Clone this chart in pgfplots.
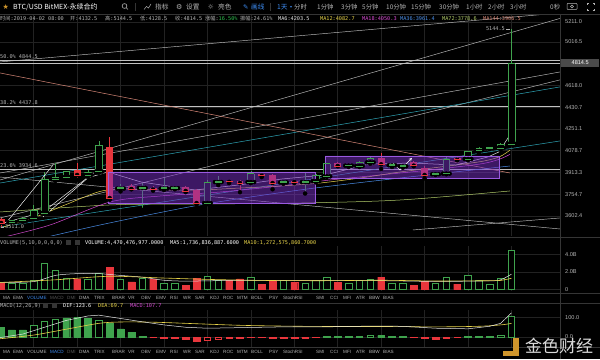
\documentclass[border=0pt]{standalone}
\usepackage{pgfplots}
\pgfplotsset{compat=1.18}
\usepackage{pgfplotstable}
\usepackage{fontspec}
\setmainfont{Liberation Sans}
\newfontfamily\cjk{Noto Sans CJK SC}
\newfontfamily\mono{DejaVu Sans Mono}
\newfontfamily\sym{DejaVu Sans}
\definecolor{gridc}{HTML}{222222}
\definecolor{sepc}{HTML}{353535}
\definecolor{cgreen}{HTML}{3FA34D}
\definecolor{cred}{HTML}{E8363C}
\definecolor{txt}{HTML}{B4B4B4}
\definecolor{dim}{HTML}{555555}
\definecolor{blu}{HTML}{3D8BF0}
\definecolor{ma6}{HTML}{E6E6E6}
\definecolor{ma12}{HTML}{E8D44A}
\definecolor{ma18}{HTML}{D64AD2}
\definecolor{ma36}{HTML}{4A8EE8}
\definecolor{ma72}{HTML}{B2CC6A}
\definecolor{ma144}{HTML}{D88878}
\definecolor{tealc}{HTML}{2FA6B8}
\definecolor{lgray}{HTML}{C0C0C0}
\definecolor{boxc}{HTML}{7A30C8}
\definecolor{boxl}{HTML}{9A5AE0}
\definecolor{gold}{HTML}{D0962C}
\definecolor{upg}{HTML}{2FBF4F}
\definecolor{tagc}{HTML}{4A4A4A}

\pgfplotsset{
 seg/.style 2 args={only marks, mark=none, forget plot,
   error bars/.cd, y dir=plus, y explicit, error mark=none,
   error bar style={draw=#1, line width=#2}},
 panel/.style={scale only axis, anchor=south west, width=560pt,
   xmin=-0.1, xmax=51.47, axis line style={draw=none}, major tick length=0pt,
   xtick={3,7,...,47}, xticklabels={}, yticklabel pos=right,
   yticklabel style={font=\fontsize{5.6}{6}\selectfont, text=txt, anchor=west, xshift=5pt, inner sep=0pt},
   grid=major, grid style={draw=gridc, line width=0.5pt}},
}

% green (up) candles
\pgfplotstableread{
i O H L C
1 3560 3575 3548 3570
2 3570 3595 3562 3588
3 3585 3679 3580 3644
4 3623 3917 3615 3865
5 3865 3985 3850 3880
6 3880 3928 3860 3925
8 3895 3935 3880 3915
9 3920 4155 3910 4124
11 3795 3830 3775 3806
13 3800 3836 3644 3806
15 3795 3870 3785 3806
16 3798 3815 3790 3806
19 3692 3860 3685 3843
20 3843 3890 3820 3850
23 3843 3925 3835 3905
26 3840 3860 3830 3848
28 3843 3910 3760 3850
29 3850 3900 3840 3893
30 3885 3985 3880 3980
32 3965 3975 3955 3970
33 3962 4000 3955 3992
34 3990 4030 3980 4023
36 3968 3985 3955 3972
37 3960 3975 3950 3965
40 3900 3912 3895 3908
41 3905 4040 3900 4015
43 4015 4080 4005 4077
44 4085 4110 4060 4097
45 4098 4105 4092 4102
46 4100 4135 4085 4132
47 4132.5 5144.5 4128.5 4814.5
}\gc
% red (down) candles
\pgfplotstableread{
i O H L C
0 3582 3590 3511 3555
7 3930 3985 3860 3895
10 4108 4187 3715 3728
12 3814 3825 3790 3792
14 3800 3815 3780 3788
17 3806 3815 3770 3778
18 3785 3790 3680 3692
21 3852 3860 3835 3844
22 3851 3860 3770 3836
24 3905 3915 3880 3890
25 3895 3900 3790 3836
27 3850 3858 3835 3843
31 3982 3995 3960 3962
35 4023 4060 3940 3975
38 3990 4000 3960 3965
39 3950 3960 3870 3895
42 4022 4030 4005 4008
}\rc
% volume (billions)
\pgfplotstableread{
i v
1 0.76
2 0.76
3 1.1
4 2.95
5 2.2
6 1.3
8 1.2
9 1.85
11 1.2
13 1.3
15 0.7
16 0.7
19 1.5
20 1.05
23 1.4
26 1.05
28 0.7
29 1.05
30 1.4
32 0.7
33 1.1
34 1.2
36 0.7
37 0.65
40 0.7
41 1.4
43 1.6
44 1.05
45 0.55
46 1.3
47 4.47
}\vg
\pgfplotstableread{
i v
0 0.76
7 1.2
10 2.5
12 0.87
14 1.2
17 0.5
18 1.24
21 1.05
22 1.2
24 0.6
25 0.95
27 0.85
31 0.85
35 1.4
38 0.5
39 0.95
42 0.6
}\vr
% MACD histogram
\pgfplotstableread{
i v
0 48
1 36
2 36
6 98
7 100
8 95
10 70
11 42
12 24
13 5
30 2
35 7
36 5
37 2
43 2
}\mgf
\pgfplotstableread{
i v
3 60
4 80
5 92
9 85
31 5
32 5
33 6
34 9
44 5
45 6
46 9
47 107.7
}\mgh
\pgfplotstableread{
i v
14 -2
15 -8
16 -8
17 -11
18 -22
23 -2
24 -3
25 -4
26 -6
27 -6
28 -6
38 -2
39 -7
40 -12
}\mrf
\pgfplotstableread{
i v
19 -15
20 -10
21 -8
22 -6
29 -4
41 -5
42 -4
}\mrh

\begin{document}
\begin{tikzpicture}[x=1pt,y=1pt]
\useasboundingbox (0,0) rectangle (600,359);
\fill[black] (0,0) rectangle (600,359);

% ================= main price panel =================
\begin{axis}[panel, at={(0pt,123pt)}, height=221pt,
  ymode=log, ymin=3467.9, ymax=5280.7,
  ytick={3602.4,3754.7,3913.3,4078.7,4251.1,4430.7,4618.0,5016.5,5211.0},
  yticklabels={3602.4,3754.7,3913.3,4078.7,4251.1,4430.7,4618.0,5016.5,5211.0}]
% fibonacci / horizontal levels
\addplot[lgray, line width=0.5pt] coordinates {(-0.1,4844.5) (51.47,4844.5)};
\addplot[lgray, line width=0.5pt] coordinates {(-0.1,4814.5) (51.47,4814.5)};
\addplot[lgray, line width=0.5pt] coordinates {(-0.1,4437.8) (51.47,4437.8)};
\addplot[lgray, line width=0.5pt] coordinates {(-0.1,3934.6) (51.47,3934.6)};
% trend lines
\addplot[lgray, line width=0.45pt] coordinates {(-0.1,4829) (51.47,5301)};
\addplot[lgray, line width=0.45pt] coordinates {(-0.1,3857.8) (51.47,5246)};
\addplot[lgray, line width=0.45pt] coordinates {(-0.1,3909.6) (51.47,4738)};
\addplot[lgray, line width=0.45pt] coordinates {(-0.1,3588.7) (51.47,4667)};
\addplot[lgray, line width=0.45pt] coordinates {(-0.1,3880) (51.47,3514.4)};
\addplot[lgray, line width=0.45pt] coordinates {(37.93,3507.7) (51.47,3588.7)};
\addplot[tealc, line width=0.5pt] coordinates {(-0.1,3836) (51.47,4605)};
\addplot[tealc, line width=0.5pt] coordinates {(-0.1,3527.8) (51.47,4155)};
% moving averages
\addplot[ma144, line width=0.5pt] coordinates {(-0.1,4729) (46.86,3909.6)};
\addplot[ma72, line width=0.5pt, smooth] coordinates {(-0.1,3629.9) (10.03,3678.6) (18.32,3685.6) (27.52,3692.5) (36.73,3713.7) (46.86,3778)};
\addplot[ma36, line width=0.5pt, smooth] coordinates {(-0.1,3389.6) (9.11,3541.2) (18.32,3678.6) (27.52,3785.2) (36.73,3872.6) (46.86,3962)};
\addplot[ma18, line width=0.5pt, smooth] coordinates {(-0.1,3454.7) (4.5,3541.2) (10.03,3699.7) (14.63,3742.1) (20.16,3770.7) (25.68,3814) (30.29,3857.8) (34.89,3894.7) (39.49,3932) (44.1,3977) (45.85,4012) (46.86,4050.3)};
\addplot[ma12, line width=0.5pt, smooth] coordinates {(-0.1,3521) (2.94,3588.7) (5.89,3678.6) (8.92,3770.7) (10.95,3792.3) (14.63,3785.2) (18.32,3785.2) (22.0,3799.6) (25.68,3814) (29.37,3836) (33.05,3872.6) (36.73,3917) (40.42,3954.4) (44.1,3995) (45.85,4030) (46.86,4082.7)};
\addplot[ma6, line width=0.5pt] coordinates {(-0.1,3548) (3.86,3629.9) (7.91,3872.6) (9.84,3917) (12.88,3843.3) (17.86,3785.2) (21.91,3821.4) (25.87,3865.2) (29.83,3894.7) (33.88,3977) (37.84,3984.8) (41.89,3969.4) (44.84,4030.4) (45.85,4069) (46.86,4203.5)};
% green candles: wick, hollow body
\addplot[seg={cgreen}{0.6pt}] table[x=i, y=L, y error expr=\thisrow{H}-\thisrow{L}] {\gc};
\addplot[seg={black}{6.4pt}] table[x=i, y=O, y error expr=\thisrow{C}-\thisrow{O}] {\gc};
\addplot[seg={cgreen}{0.6pt}] table[x expr=\thisrow{i}-0.31, y=O, y error expr=\thisrow{C}-\thisrow{O}] {\gc};
\addplot[seg={cgreen}{0.6pt}] table[x expr=\thisrow{i}+0.31, y=O, y error expr=\thisrow{C}-\thisrow{O}] {\gc};
\addplot[only marks, mark=-, mark size=3.37pt, mark options={draw=cgreen, line width=0.6pt}] table[x=i, y=O] {\gc};
\addplot[only marks, mark=-, mark size=3.37pt, mark options={draw=cgreen, line width=0.6pt}] table[x=i, y=C] {\gc};
% red candles: wick, filled body
\addplot[seg={cred}{0.6pt}] table[x=i, y=L, y error expr=\thisrow{H}-\thisrow{L}] {\rc};
\addplot[seg={cred}{6.9pt}] table[x=i, y=C, y error expr=\thisrow{O}-\thisrow{C}] {\rc};
\addplot[only marks, mark=-, mark size=3.45pt, mark options={draw=cred, line width=0.8pt}] table[x=i, y=C] {\rc};
% drawn boxes (translucent)
\addplot[fill=boxc, fill opacity=0.5, draw=boxl, line width=0.6pt] coordinates {(9.84,3692.5) (28.91,3692.5) (28.91,3917) (9.84,3917) (9.84,3692.5)};
\addplot[fill=boxc, fill opacity=0.5, draw=boxl, line width=0.6pt] coordinates {(29.83,3872.6) (45.85,3872.6) (45.85,4038) (29.83,4038) (29.83,3872.6)};
% drawing-tool lines
\addplot[white, line width=0.45pt] coordinates {(0.54,3561.5) (4.78,3969.4)};
\addplot[white, line width=0.45pt] coordinates {(3.86,3595.6) (8.83,3932)};
\addplot[white, line width=0.5pt, -stealth] coordinates {(36.1,3984.8) (36.73,3932) (37.84,4022.9)};
\end{axis}

% ================= volume panel =================
\begin{axis}[panel, at={(0pt,68pt)}, height=45pt,
  ymin=-0.17, ymax=4.94, ytick={0,2,4}, yticklabels={0,2.0B,4.0B}]
\addplot[ybar, bar width=6.5pt, bar shift=0pt, fill=black, draw=cgreen, line width=0.6pt] table[x=i, y=v] {\vg};
\addplot[ybar, bar width=6.9pt, bar shift=0pt, fill=cred, draw=cred, line width=0.3pt] table[x=i, y=v] {\vr};
\addplot[ma6, line width=0.5pt, smooth] coordinates {(-0.1,0.8) (3,0.9) (5,1.6) (7,1.8) (9,1.8) (11,1.6) (13,1.4) (15,1.05) (17,0.95) (20,1.0) (25,1.0) (30,1.02) (35,1.0) (40,0.92) (45,0.98) (46,1.1) (47,1.74)};
\addplot[ma12, line width=0.6pt, smooth] coordinates {(-0.1,0.8) (5,1.1) (10,1.5) (15,1.3) (20,1.12) (25,1.02) (30,1.0) (35,1.05) (40,0.97) (45,1.0) (46,1.03) (47,1.27)};
\end{axis}

% ================= MACD panel =================
\begin{axis}[panel, at={(0pt,11pt)}, height=38pt,
  ymin=-56.4, ymax=138.5, ytick={0,100}, yticklabels={0.0,100.0}]
\addplot[ybar, bar width=6.9pt, bar shift=0pt, fill=cgreen, draw=cgreen, line width=0.3pt] table[x=i, y=v] {\mgf};
\addplot[ybar, bar width=6.5pt, bar shift=0pt, fill=black, draw=cgreen, line width=0.6pt] table[x=i, y=v] {\mgh};
\addplot[ybar, bar width=6.9pt, bar shift=0pt, fill=cred, draw=cred, line width=0.3pt] table[x=i, y=v] {\mrf};
\addplot[ybar, bar width=6.5pt, bar shift=0pt, fill=black, draw=cred, line width=0.6pt] table[x=i, y=v] {\mrh};
\addplot[ma12, line width=0.6pt, smooth] coordinates {(-0.1,-9) (3,10) (6,40) (9,70) (11,77) (14,76) (18,68) (22,60) (26,56) (30,54) (35,54) (40,52) (44,55) (46,62) (47,69.7)};
\addplot[ma6, line width=0.5pt] coordinates {(-0.1,-3) (2,15) (4,50) (6,85) (8,108) (9,112) (11,95) (13,78) (15,62) (17,50) (19,45) (22,48) (26,52) (30,52) (34,56) (37,55) (40,45) (43,42) (45,55) (46,70) (47,123.6)};
\end{axis}

% ================= frame / separators =================
\draw[sepc, line width=0.6pt] (0,345) -- (600,345);
\draw[sepc, line width=0.6pt] (560,0) -- (560,345);
\draw[sepc, line width=0.6pt] (0,122) -- (600,122);
\draw[sepc, line width=0.5pt] (0,66) -- (600,66);
\draw[sepc, line width=0.5pt] (0,56) -- (600,56);
\draw[sepc, line width=0.5pt] (0,12) -- (600,12);

% ================= toolbar =================
\begin{scope}[every node/.style={anchor=west, inner sep=0pt}]
\node[text=gold, font=\sym\fontsize{7}{8}\selectfont] at (2.5,352) {★};
\node[text=white, font=\cjk\fontsize{7}{8}\selectfont] at (13,352) {BTC/USD BitMEX-永续合约};
\draw[txt, line width=0.6pt] (124.5,353) circle (2.4pt);
\draw[txt, line width=0.6pt] (126.2,351.3) -- (128,349.5);
\draw[sepc] (135,348) -- (135,356);
\draw[txt, line width=0.5pt] (144,349.5) -- (146.5,352.5) -- (148.5,351) -- (151,355);
\node[text=txt, font=\cjk\fontsize{6.7}{7}\selectfont] at (155,352) {指标};
\node[text=txt, font=\sym\fontsize{7}{7}\selectfont] at (176,352) {⚙};
\node[text=txt, font=\cjk\fontsize{6.7}{7}\selectfont] at (186,352) {设置};
\node[text=txt, font=\sym\fontsize{7}{7}\selectfont] at (207.5,352) {☼};
\node[text=txt, font=\cjk\fontsize{6.7}{7}\selectfont] at (218,352) {亮色};
\node[text=blu, font=\sym\fontsize{6.5}{7}\selectfont] at (243,352) {✎};
\node[text=blu, font=\cjk\fontsize{6.7}{7}\selectfont] at (251,352) {画线};
\draw[sepc] (270,348) -- (270,356);
\node[text=blu, font=\cjk\fontsize{6.7}{7}\selectfont] at (277,352) {1天};
\node[text=blu, font=\sym\fontsize{4}{5}\selectfont] at (290,352) {▾};
\foreach \x/\t in {294/分时, 317/1分钟, 341/3分钟, 362/5分钟, 386/10分钟, 411/15分钟, 439/30分钟, 466/1小时, 488/2小时, 510/3小时, 550/0秒}
  \node[text=txt, font=\cjk\fontsize{6.4}{7}\selectfont] at (\x,352) {\t};
\draw[txt, line width=0.5pt, rounded corners=0.8pt] (567,349.5) rectangle (577,355.5);
\draw[txt, line width=0.5pt] (572,352.5) circle (1.5pt);
\draw[txt, line width=0.5pt] (587,350) -- (587,348.5) -- (588.5,348.5) (592.5,348.5) -- (594,348.5) -- (594,350) (594,354) -- (594,355.5) -- (592.5,355.5) (588.5,355.5) -- (587,355.5) -- (587,354);

% ================= info line =================
\begin{scope}[every node/.append style={font=\mono\fontsize{5.2}{6}\selectfont, text=txt}]
\node at (0,340) {{\cjk 时间}:2019-04-02 08:00};
\node at (70,340) {{\cjk 开}:4132.5};
\node at (105,340) {{\cjk 高}:5144.5};
\node at (140,340) {{\cjk 低}:4128.5};
\node at (175,340) {{\cjk 收}:4814.5};
\node at (205,340) {{\cjk 涨幅}:\textcolor{upg}{16.50\%}};
\node at (240,340) {{\cjk 振幅}:24.61\%};
\node[text=ma6] at (278,340) {MA6:4203.5};
\node[text=ma12] at (320,340) {MA12:4082.7};
\node[text=ma18] at (362,340) {MA18:4050.3};
\node[text=ma36] at (400,340) {MA36:3961.4};
\node[text=ma72] at (442,340) {MA72:3778.6};
\node[text=ma144] at (483,340) {MA144:3906.5};
% level labels
\node at (0,302) {50.0\% 4844.5};
\node at (0,256) {38.2\% 4437.8};
\node at (0,193) {23.6\% 3934.6};
\node at (5,132) {3511.0};
\node[anchor=east] at (505,330) {5144.5};
\end{scope}
\draw[txt, line width=0.4pt] (1,132) -- (4,132);
\draw[txt, line width=0.4pt] (506,330) -- (509.5,330);
\node[fill=tagc, text=white, font=\fontsize{5.6}{6}\selectfont, inner sep=1.6pt, minimum width=38pt, anchor=west] at (561,296) {4814.5};

% ================= panel headers =================
\begin{scope}[every node/.append style={font=\mono\fontsize{5.2}{6}\selectfont, text=txt}]
\node at (0,116) {VOLUME(5,10,0,0,0,0)};
\node[text=white] at (85,116) {VOLUME:4,470,476,977.0000};
\node[text=white] at (170,116) {MA5:1,736,836,887.6000};
\node[text=ma12] at (244,116) {MA10:1,272,575,860.7000};
\node at (0,53) {MACD(12,26,9)};
\node[text=white] at (63,53) {DIF:123.6};
\node[text=ma12] at (98,53) {DEA:69.7};
\node[text=ma18] at (130,53) {MACD:107.7};
\end{scope}
\fill[sepc] (65.5,113.5) rectangle (70.5,118.5);
\fill[sepc] (75,113.5) rectangle (80,118.5);
\fill[sepc] (42.5,50.5) rectangle (47.5,55.5);
\fill[sepc] (52,50.5) rectangle (57,55.5);

% ================= indicator tabs =================
\begin{scope}[every node/.append style={font=\fontsize{4.6}{5}\selectfont, text=txt}]
\foreach \x/\t in {3/MA, 13/EMA, 79/DMA, 94/TRIX, 112/BRAR, 128/VR, 141/OBV, 156/EMV, 170/RSI, 183/WR, 195/SAR, 210/KDJ, 223/ROC, 237/MTM, 251/BOLL, 269/PSY, 283/StochRSI, 316/SMI, 330/CCI, 343/MFI, 356/ATR, 369/BBW, 383/BIAS}
 { \node at (\x,61) {\t}; \node at (\x,7) {\t}; }
\node[text=blu] at (27,61) {VOLUME};
\node[text=dim] at (50,61) {MACD};
\node[text=dim] at (67,61) {DMI};
\node at (27,7) {VOLUME};
\node[text=blu] at (50,7) {MACD};
\node[text=dim] at (67,7) {DMI};
\end{scope}
\end{scope}

% ================= watermark =================
\fill[gold] (513,3) rectangle (519,21);
\fill[gold] (503,3) rectangle (519,8);
\node[anchor=west, inner sep=0pt, text=white, opacity=0.85, font=\cjk\fontsize{17}{18}\selectfont] at (525,13) {金色财经};
\end{tikzpicture}
\end{document}
